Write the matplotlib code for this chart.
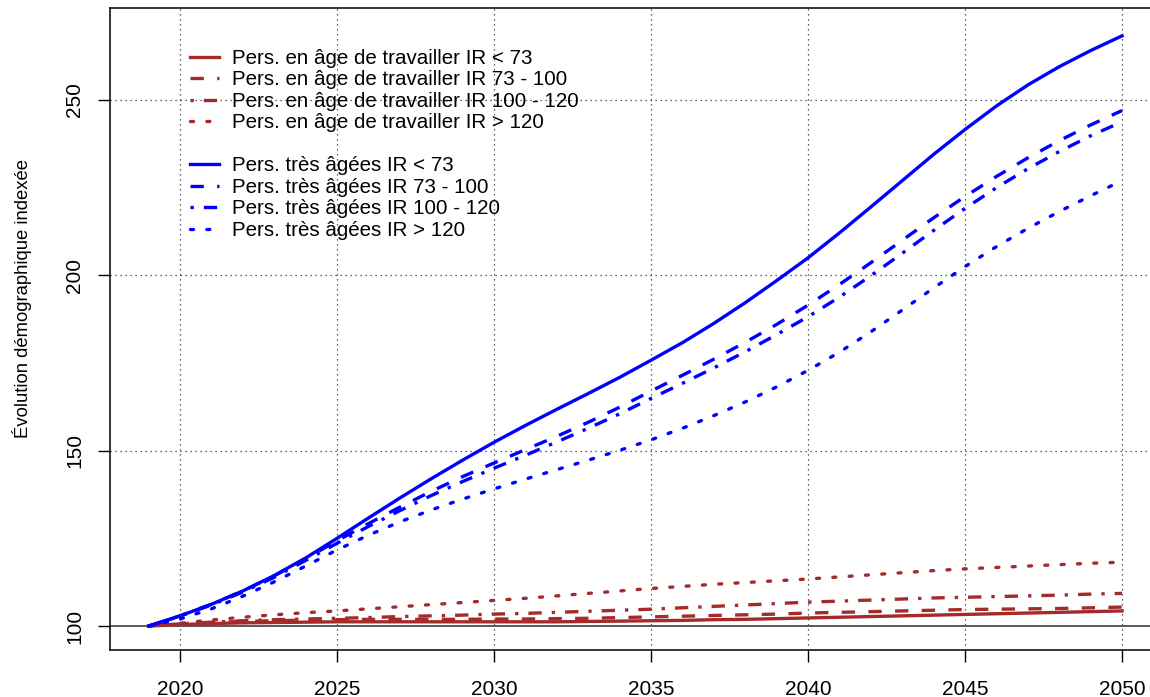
import matplotlib
matplotlib.use("Agg")
import matplotlib.pyplot as plt
from matplotlib.lines import Line2D

plt.rcParams['font.family'] = ['Liberation Sans', 'DejaVu Sans']

# ---------------------------------------------------------------
# Données : évolution indexée (base 100 en 2019)
# ---------------------------------------------------------------
annees = list(range(2019, 2051))

# personnes en âge de travailler, par classe d'IR
travail_lt73 = [100.0, 100.4, 100.7, 100.9, 101.0, 101.1, 101.2, 101.2, 101.2, 101.2,
                101.2, 101.2, 101.2, 101.2, 101.3, 101.4, 101.5, 101.6, 101.8, 101.9,
                102.1, 102.3, 102.5, 102.7, 102.9, 103.1, 103.3, 103.5, 103.7, 103.9,
                104.1, 104.3]
travail_73_100 = [100.0, 100.6, 101.0, 101.3, 101.5, 101.7, 101.8, 101.9, 101.9, 101.9,
                  101.9, 102.0, 102.0, 102.1, 102.2, 102.4, 102.6, 102.8, 103.0, 103.2,
                  103.4, 103.7, 103.9, 104.1, 104.3, 104.5, 104.7, 104.8, 104.9, 105.0,
                  105.2, 105.4]
travail_100_120 = [100.0, 100.6, 101.1, 101.5, 101.8, 102.0, 102.2, 102.4, 102.7, 102.9,
                   103.1, 103.4, 103.6, 103.9, 104.2, 104.5, 104.8, 105.2, 105.6, 106.0,
                   106.4, 106.8, 107.1, 107.4, 107.7, 108.0, 108.2, 108.4, 108.6, 108.8,
                   109.1, 109.3]
travail_gt120 = [100.0, 100.8, 101.7, 102.5, 103.2, 103.8, 104.3, 104.9, 105.5, 106.1,
                 106.7, 107.3, 107.9, 108.6, 109.3, 110.0, 110.7, 111.3, 111.9, 112.4,
                 112.9, 113.4, 114.0, 114.6, 115.2, 115.8, 116.3, 116.7, 117.1, 117.5,
                 117.9, 118.2]

# personnes très âgées, par classe d'IR
agees_lt73 = [100.0, 102.9, 106.2, 110.0, 114.4, 119.4, 125.0, 130.8, 136.5, 142.0,
              147.3, 152.4, 157.2, 161.8, 166.3, 170.9, 175.8, 180.8, 186.3, 192.2,
              198.5, 205.0, 212.1, 219.5, 227.0, 234.5, 241.6, 248.3, 254.3, 259.5,
              264.1, 268.3]
agees_73_100 = [100.0, 102.9, 106.2, 110.0, 114.3, 119.2, 124.3, 129.2, 133.9, 138.4,
                142.6, 146.5, 150.3, 154.1, 158.1, 162.4, 167.0, 171.5, 176.1, 180.9,
                186.0, 191.5, 197.4, 203.6, 210.0, 216.4, 222.5, 228.2, 233.5, 238.4,
                242.9, 247.0]
agees_100_120 = [100.0, 102.8, 106.0, 109.7, 113.9, 118.7, 123.6, 128.4, 132.9, 137.2,
                 141.2, 145.0, 148.7, 152.5, 156.4, 160.5, 164.9, 169.2, 173.6, 178.2,
                 183.1, 188.2, 193.8, 199.9, 206.3, 212.8, 219.1, 225.0, 230.4, 235.3,
                 239.8, 243.8]
agees_gt120 = [100.0, 102.0, 104.9, 108.5, 112.6, 117.1, 121.7, 125.9, 129.7, 133.1,
               136.2, 139.1, 141.9, 144.6, 147.3, 150.1, 153.1, 156.4, 160.0, 163.9,
               168.2, 172.9, 178.1, 183.9, 190.1, 196.4, 202.5, 208.2, 213.4, 218.2,
               222.7, 227.0]

classes_ir = ["< 73", "73 - 100", "100 - 120", "> 120"]
series_travail = [travail_lt73, travail_73_100, travail_100_120, travail_gt120]
series_agees = [agees_lt73, agees_73_100, agees_100_120, agees_gt120]

x_ticks = [2020, 2025, 2030, 2035, 2040, 2045, 2050]
y_ticks = [100, 150, 200, 250]

# styles de trait type R : solid, dashed, dotdash, dotted
styles = [
    dict(linestyle="-"),
    dict(linestyle=(0, (4, 4))),
    dict(linestyle=(0, (1, 3, 4, 3))),
    dict(linestyle=(0, (0.9, 4.0)), dash_capstyle="round"),
]
rouge = "#A52A2A"
bleu = "#0000FF"
lw = 2.4

# ---------------------------------------------------------------
# Figure
# ---------------------------------------------------------------
W, H = 1150, 697
fig = plt.figure(figsize=(W / 100, H / 100), dpi=100)
ax = fig.add_axes([110 / W, 47 / H, 1051 / W, 642 / H])

ax.set_xlim(2017.77, 2051.24)
ax.set_ylim(93.16, 276.24)

# grille pointillée + ligne de référence à 100
for xv in x_ticks:
    ax.axvline(xv, color="0.2", lw=0.9, linestyle=(0, (1, 3)), zorder=1)
for yv in y_ticks[1:]:
    ax.axhline(yv, color="0.2", lw=0.9, linestyle=(0, (1, 3)), zorder=1)
ax.axhline(100, color="0.35", lw=1.4, zorder=1.5)

handles = []
for serie, st, cl in zip(series_travail, styles, classes_ir):
    (ln,) = ax.plot(annees, serie, color=rouge, lw=lw, zorder=3, **st)
    ln.set_label("Pers. en âge de travailler IR " + cl)
    handles.append(ln)
handles.append(Line2D([], [], linestyle="none", label=" "))
for serie, st, cl in zip(series_agees, styles, classes_ir):
    (ln,) = ax.plot(annees, serie, color=bleu, lw=lw, zorder=3, **st)
    ln.set_label("Pers. très âgées IR " + cl)
    handles.append(ln)

ax.set_xticks(x_ticks)
ax.set_yticks(y_ticks)
ax.tick_params(axis="both", direction="out", length=8.5, width=1.0,
               labelsize=15, colors="black")
ax.tick_params(axis="x", pad=13)
ax.tick_params(axis="y", pad=10)
for lab in ax.get_yticklabels():
    lab.set_rotation(90)
    lab.set_va("center")

for side in ["left", "bottom", "top", "right"]:
    ax.spines[side].set_linewidth(1.1)
    ax.spines[side].set_color("black")

fig.text(21.7 / W, 1 - 299 / H, "Évolution démographique indexée",
         rotation=90, ha="center", va="center", fontsize=13.3)

ax.legend(handles=handles, labels=[h.get_label() for h in handles],
          loc="upper left", bbox_to_anchor=(190 / W, 1 - 49 / H),
          bbox_transform=fig.transFigure, frameon=False, fontsize=14.8,
          borderpad=0, borderaxespad=0, labelspacing=0.12,
          handlelength=1.4, handletextpad=0.65)

fig.savefig("out.png", dpi=100)
